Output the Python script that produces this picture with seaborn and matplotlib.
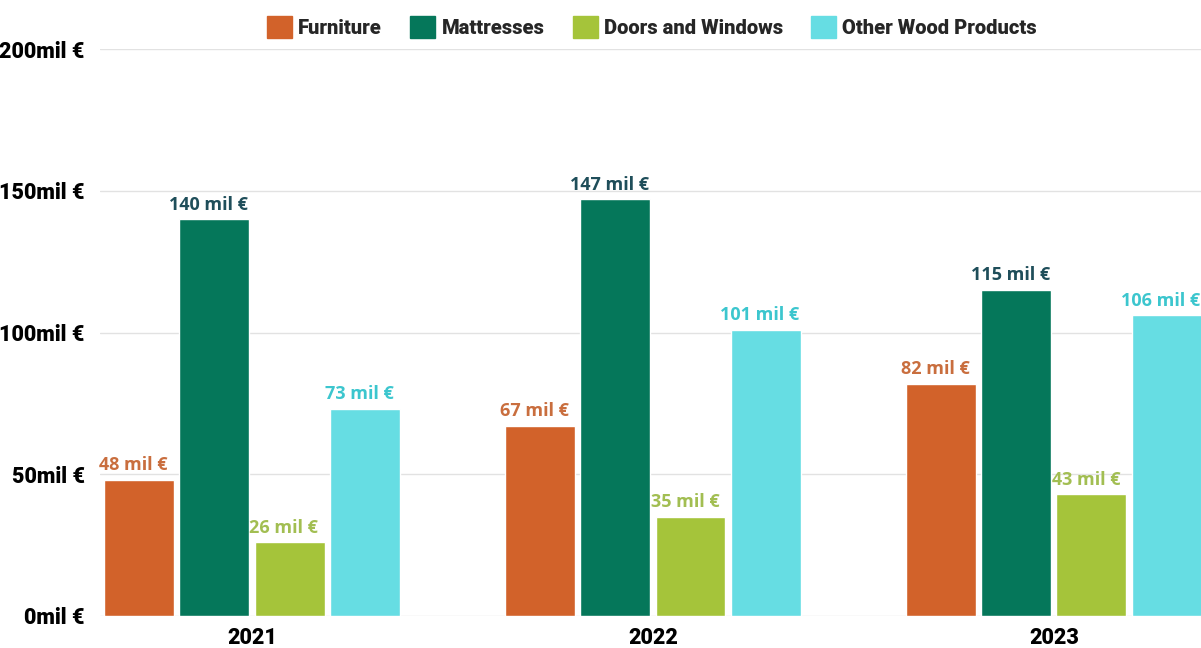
import matplotlib
matplotlib.use("Agg")
import matplotlib.pyplot as plt
from matplotlib import font_manager
from matplotlib.font_manager import FontProperties
import seaborn as sns
import pandas as pd

years = ["2021", "2022", "2023"]
categories = ["Furniture", "Mattresses", "Doors and Windows", "Other Wood Products"]
furniture = [48, 67, 82]
mattresses = [140, 147, 115]
doors_windows = [26, 35, 43]
other_wood = [73, 101, 106]
y_ticks = [0, 50, 100, 150, 200]

bar_colors = ["#D2622A", "#05775A", "#A5C43A", "#66DDE3"]
label_colors = ["#C96E3E", "#1F4E5A", "#A2BE52", "#3CC6CE"]

installed = {f.name for f in font_manager.fontManager.ttflist}
label_font = "Open Sans" if "Open Sans" in installed else "DejaVu Sans"
heading_font = "Roboto" if "Roboto" in installed else "Liberation Sans"


def heavy(size):
    return FontProperties(family=[heading_font, "DejaVu Sans"], weight="black", size=size)


sns.set_theme(style="white")
plt.rcParams["font.family"] = ["DejaVu Sans"]

series = [furniture, mattresses, doors_windows, other_wood]
df = pd.DataFrame(
    [(y, c, v) for c, vals in zip(categories, series) for y, v in zip(years, vals)],
    columns=["year", "category", "value"],
)

fig = plt.figure(figsize=(12.01, 6.48), dpi=100)
ax = fig.add_axes([100 / 1201, 32 / 648, 1 - 100 / 1201, (616 - 49) / 648])

sns.barplot(
    data=df, x="year", y="value", hue="category", order=years, hue_order=categories,
    palette=bar_colors, width=0.75, gap=0.07, saturation=1, ax=ax, legend=False,
)

# value labels above each bar, in the lighter tone of its series
for container, vals, col in zip(ax.containers, series, label_colors):
    for patch, val in zip(container.patches, vals):
        ax.annotate(
            f"{val} mil €",
            (patch.get_x() + patch.get_width() / 2, patch.get_height()),
            xytext=(-4, 4), textcoords="offset points",
            ha="center", va="bottom", fontsize=13, fontweight="bold",
            color=col, family=[label_font, "DejaVu Sans"],
        )

ax.set_ylim(0, 200)
ax.set_xlim(-0.379, 2.367)
ax.set_yticks(y_ticks)
ax.set_yticklabels([f"{t}mil €" for t in y_ticks], fontproperties=heavy(15.5))
ax.set_xticks(range(len(years)))
ax.set_xticklabels(years, fontproperties=heavy(15.5))
ax.yaxis.grid(True, color="#E2E2E2", linewidth=1)
ax.set_axisbelow(True)
for s in ax.spines.values():
    s.set_visible(False)
ax.set_xlabel("")
ax.set_ylabel("")
ax.tick_params(axis="y", length=0, pad=11, labelcolor="black")
ax.tick_params(axis="x", length=0, pad=8, labelcolor="black")

handles = [plt.Rectangle((0, 0), 1, 1, color=c) for c in bar_colors]
fig.legend(
    handles, categories, loc="center", bbox_to_anchor=(652 / 1201, 1 - 27 / 648),
    ncol=4, frameon=False, handlelength=1.25, handleheight=1.25, columnspacing=1.4,
    handletextpad=0.3, prop=heavy(14.5),
)

fig.savefig("out.png", dpi=100)
